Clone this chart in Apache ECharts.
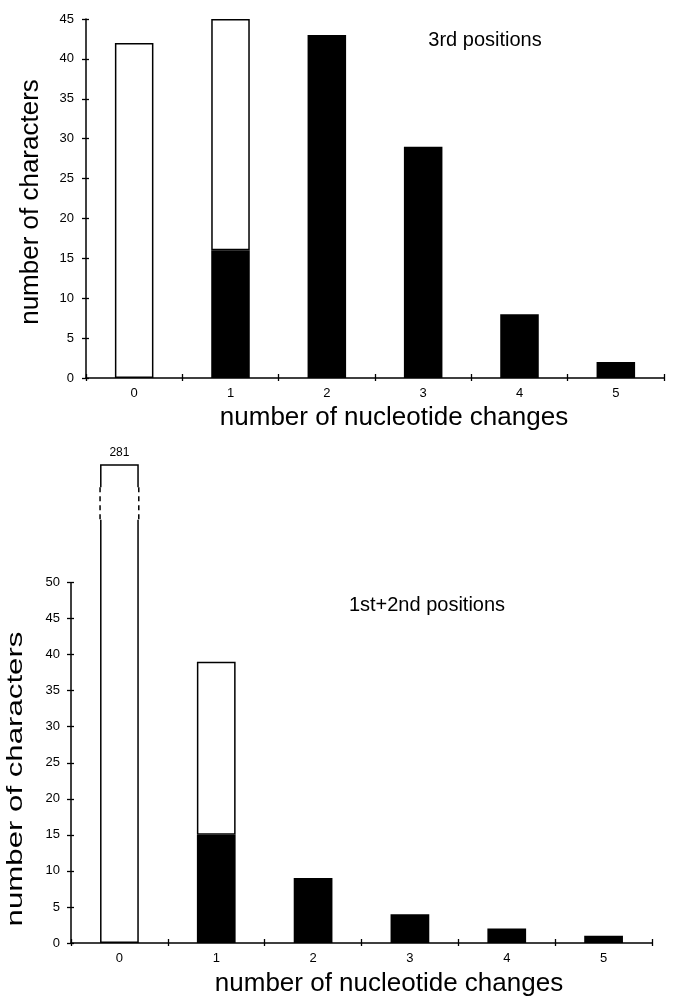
<!DOCTYPE html>
<html>
<head>
<meta charset="utf-8">
<script src="https://cdn.jsdelivr.net/npm/echarts@6/dist/echarts.min.js"></script>
<style>
html,body{margin:0;padding:0;background:#fff;}
#chart{width:674px;height:1000px;}
</style>
</head>
<body>
<div id="chart"></div>
<script>
// ---- data ----
const categories = ['0', '1', '2', '3', '4', '5'];
// 3rd positions
const topBlack = [0, 16, 43, 29, 8, 2];
const topWhite = [42, 29, 0, 0, 0, 0];
const topTicks = [0, 5, 10, 15, 20, 25, 30, 35, 40, 45];
// 1st+2nd positions
const bottomBlack = [0, 15, 9, 4, 2, 1];
const bottomWhite = [281, 24, 0, 0, 0, 0];
const bottomTicks = [0, 5, 10, 15, 20, 25, 30, 35, 40, 45, 50];

// ---- display settings ----
const FONT = 'Liberation Sans, Arial, Helvetica, sans-serif';
const BAR_RATIO = 0.4;
const bottomAxisMax = 66.3;        // visible extent of lower panel (bar 0 is broken)
const brokenIndex = 0;
const breakRange = [58.7, 63.2];   // axis values where the broken bar is drawn dashed

const blankZero = arr => arr.map(v => (v === 0 ? '-' : v));

const chart = echarts.init(document.getElementById('chart'), null, {renderer: 'canvas'});

const axisLineStyle = {color: '#000', width: 1.5};
const labelStyle = {color: '#000', fontSize: 13, fontFamily: FONT};

function catAxis(gridIndex, main) {
  return {
    type: 'category', gridIndex: gridIndex, data: categories, position: 'bottom',
    axisLine: {show: main, lineStyle: axisLineStyle},
    axisTick: {show: true, inside: !main, length: main ? 3 : 4, lineStyle: {color: '#000', width: 1.3}},
    axisLabel: main ? Object.assign({margin: 9}, labelStyle) : {show: false},
    splitLine: {show: false}
  };
}

const option = {
  animation: false,
  backgroundColor: '#fff',
  grid: [
    {left: 86, right: 10, top: 19, height: 359},
    {left: 71, right: 22, top: 465, height: 478}
  ],
  xAxis: [catAxis(0, true), catAxis(0, false), catAxis(1, true), catAxis(1, false)],
  yAxis: [
    {
      type: 'value', gridIndex: 0, min: 0, max: topTicks[topTicks.length - 1], interval: 5, position: 'left',
      axisLine: {show: true, lineStyle: axisLineStyle},
      axisTick: {show: true, length: 4, customValues: topTicks, lineStyle: {color: '#000', width: 1.3}},
      axisLabel: Object.assign({margin: 12, customValues: topTicks}, labelStyle),
      splitLine: {show: false}
    },
    {
      type: 'value', gridIndex: 0, min: 0, max: topTicks[topTicks.length - 1], interval: 5, position: 'left',
      axisLine: {show: false},
      axisTick: {show: true, inside: true, length: 3, customValues: topTicks, lineStyle: {color: '#000', width: 1.3}},
      axisLabel: {show: false}, splitLine: {show: false}
    },
    {
      type: 'value', gridIndex: 1, min: 0, max: bottomAxisMax, position: 'left',
      axisLine: {show: false},
      axisTick: {show: true, length: 4, customValues: bottomTicks, lineStyle: {color: '#000', width: 1.3}},
      axisLabel: Object.assign({margin: 11, customValues: bottomTicks}, labelStyle),
      splitLine: {show: false}
    },
    {
      type: 'value', gridIndex: 1, min: 0, max: bottomAxisMax, position: 'left',
      axisLine: {show: false},
      axisTick: {show: true, inside: true, length: 3, customValues: bottomTicks, lineStyle: {color: '#000', width: 1.3}},
      axisLabel: {show: false}, splitLine: {show: false}
    }
  ],
  series: [
    {
      name: '3rd black', type: 'bar', xAxisIndex: 0, yAxisIndex: 0, stack: 'top',
      barWidth: (BAR_RATIO * 100) + '%', data: blankZero(topBlack),
      itemStyle: {color: '#000'}, z: 3
    },
    {
      name: '3rd white', type: 'bar', xAxisIndex: 0, yAxisIndex: 0, stack: 'top',
      barWidth: (BAR_RATIO * 100) + '%', data: blankZero(topWhite),
      itemStyle: {color: '#fff', borderColor: '#000', borderWidth: 1.5}, z: 3
    },
    {
      name: '1st+2nd black', type: 'bar', xAxisIndex: 2, yAxisIndex: 2, stack: 'bottom',
      barWidth: (BAR_RATIO * 100) + '%', data: blankZero(bottomBlack),
      itemStyle: {color: '#000'}, z: 3
    },
    {
      name: '1st+2nd white', type: 'bar', xAxisIndex: 2, yAxisIndex: 2, stack: 'bottom',
      barWidth: (BAR_RATIO * 100) + '%',
      data: blankZero(bottomWhite).map((v, i) => i === brokenIndex
        ? {value: v, label: {show: true, position: 'top', distance: 6, color: '#000', fontSize: 12, fontFamily: FONT}}
        : v),
      itemStyle: {color: '#fff', borderColor: '#000', borderWidth: 1.5}, z: 3
    },
    {
      // break marks on the truncated bar
      name: 'break', type: 'custom', xAxisIndex: 2, yAxisIndex: 2, z: 5,
      data: [[brokenIndex, breakRange[0], breakRange[1]]],
      encode: {x: 0, y: [1, 2]},
      renderItem: function (params, api) {
        const band = api.size([1, 0])[0];
        const bw = band * BAR_RATIO;
        const lo = api.coord([api.value(0), api.value(1)]);
        const hi = api.coord([api.value(0), api.value(2)]);
        const xl = lo[0] - bw / 2, xr = lo[0] + bw / 2;
        const dash = {stroke: '#000', lineWidth: 1.5, lineDash: [5, 4]};
        return {type: 'group', children: [
          {type: 'rect', shape: {x: xl - 2, y: hi[1], width: bw + 4, height: lo[1] - hi[1]}, style: {fill: '#fff'}},
          {type: 'line', shape: {x1: xl, y1: hi[1], x2: xl, y2: lo[1]}, style: dash},
          {type: 'line', shape: {x1: xr, y1: hi[1], x2: xr, y2: lo[1]}, style: dash}
        ]};
      }
    },
    {
      // lower panel value-axis line, which stops at the last tick
      name: 'axis', type: 'custom', xAxisIndex: 2, yAxisIndex: 2, z: 6,
      data: [[0, bottomTicks[0], bottomTicks[bottomTicks.length - 1]]],
      encode: {x: 0, y: [1, 2]},
      renderItem: function (params, api) {
        const band = api.size([1, 0])[0];
        const a = api.coord([api.value(0), api.value(1)]);
        const b = api.coord([api.value(0), api.value(2)]);
        const x = a[0] - band / 2;
        return {type: 'line', shape: {x1: x, y1: a[1], x2: x, y2: b[1]}, style: {stroke: '#000', lineWidth: 1.5}};
      }
    }
  ],
  graphic: [
    {type: 'text', x: 485, y: 40, style: {text: '3rd positions', fontSize: 20, fontFamily: FONT, fill: '#000', align: 'center', verticalAlign: 'middle', textAlign: 'center', textVerticalAlign: 'middle'}},
    {type: 'text', x: 427, y: 605, style: {text: '1st+2nd positions', fontSize: 20, fontFamily: FONT, fill: '#000', align: 'center', verticalAlign: 'middle', textAlign: 'center', textVerticalAlign: 'middle'}},
    {type: 'text', x: 394, y: 418, style: {text: 'number of nucleotide changes', fontSize: 26, fontFamily: FONT, fill: '#000', align: 'center', verticalAlign: 'middle', textAlign: 'center', textVerticalAlign: 'middle'}},
    {type: 'text', x: 389, y: 984, style: {text: 'number of nucleotide changes', fontSize: 26, fontFamily: FONT, fill: '#000', align: 'center', verticalAlign: 'middle', textAlign: 'center', textVerticalAlign: 'middle'}},
    {type: 'text', x: 31, y: 202, rotation: Math.PI / 2, style: {text: 'number of characters', fontSize: 26, fontFamily: FONT, fill: '#000', align: 'center', verticalAlign: 'middle', textAlign: 'center', textVerticalAlign: 'middle'}},
    {type: 'text', x: 16, y: 779, rotation: Math.PI / 2, scaleX: 1.2, scaleY: 0.86, style: {text: 'number of characters', fontSize: 26, fontFamily: FONT, fill: '#000', align: 'center', verticalAlign: 'middle', textAlign: 'center', textVerticalAlign: 'middle'}}
  ]
};

chart.setOption(option);
</script>
</body>
</html>
